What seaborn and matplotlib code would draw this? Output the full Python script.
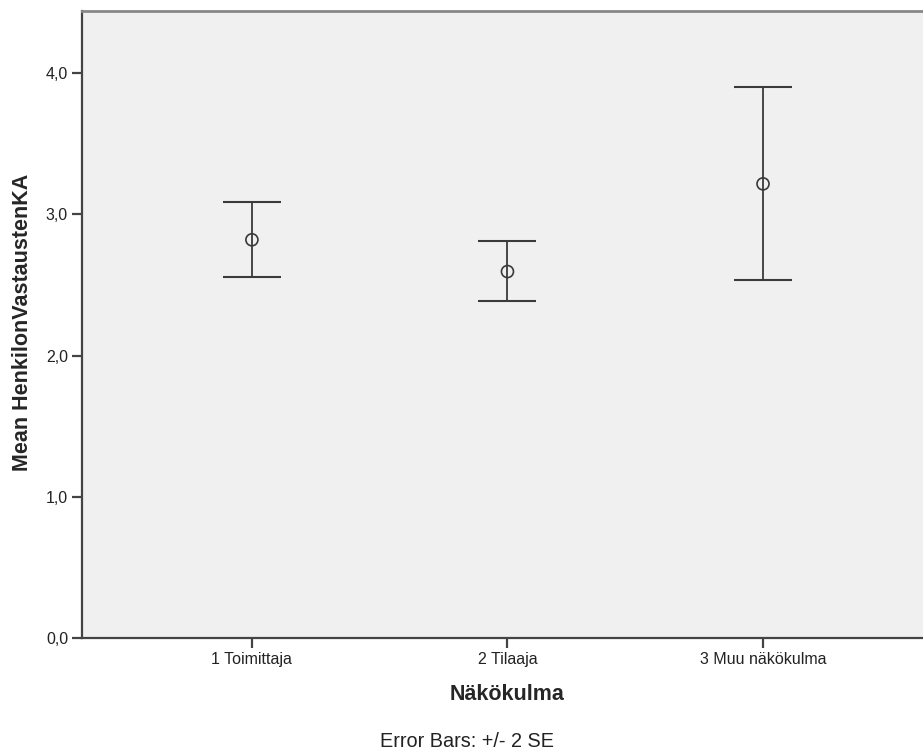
import matplotlib
matplotlib.use("Agg")
import matplotlib.pyplot as plt
import seaborn as sns
import pandas as pd
from matplotlib.ticker import FuncFormatter

# values (mean +/- 2 SE)
groups = ["1 Toimittaja", "2 Tilaaja", "3 Muu näkökulma"]
means = [2.82, 2.595, 3.216]
lower = [2.553, 2.385, 2.532]
upper = [3.087, 2.808, 3.90]

df = pd.DataFrame({"Näkökulma": groups, "mean": means})

sns.set_style("white")
plt.rcParams["font.family"] = ["Liberation Sans", "DejaVu Sans"]

fig = plt.figure(figsize=(9.23, 7.54), dpi=100)
ax = fig.add_axes([0.0888, 0.1538, 0.922, 0.8316])
ax.set_facecolor("#f0f0f0")

line_col = "#3a3a3a"
yerr = [[m - l for m, l in zip(means, lower)], [u - m for m, u in zip(means, upper)]]
ax.errorbar(x=list(range(len(groups))), y=means, yerr=yerr, fmt="none",
            ecolor=line_col, elinewidth=1.3, capsize=21, capthick=1.5, zorder=2)
sns.scatterplot(data=df, x="Näkökulma", y="mean", ax=ax, marker="o", s=75,
                facecolor="none", edgecolor=line_col, linewidth=1.2, zorder=3)

ax.set_xlim(-0.665, 2.665)
ax.set_ylim(0, 4.44)
ax.set_yticks([0, 1, 2, 3, 4])
ax.yaxis.set_major_formatter(FuncFormatter(lambda v, p: f"{v:.1f}".replace(".", ",")))
ax.set_xticks(range(len(groups)))
ax.set_xticklabels(groups)

for s in ["left", "bottom"]:
    ax.spines[s].set_color("#444444")
    ax.spines[s].set_linewidth(1.6)
ax.spines["top"].set_color("#888888")
ax.spines["top"].set_linewidth(2)
ax.spines["right"].set_visible(False)

ax.tick_params(axis="both", direction="out", length=7.5, width=1.6, color="#444444",
               labelsize=11.5, labelcolor="#222222", left=True, bottom=True, pad=2.5)

ax.set_xlabel("Näkökulma", fontsize=15.5, fontweight="bold", va="center")
ax.xaxis.set_label_coords(0.5, -0.0905)
ax.set_ylabel("Mean HenkilonVastaustenKA", fontsize=15.5, fontweight="bold", va="center")
ax.yaxis.set_label_coords(-0.0693, 0.503)

fig.text(0.506, 0.017, "Error Bars: +/- 2 SE", ha="center", va="center", fontsize=14.3, color="#222222")

fig.savefig("out.png", dpi=100)
